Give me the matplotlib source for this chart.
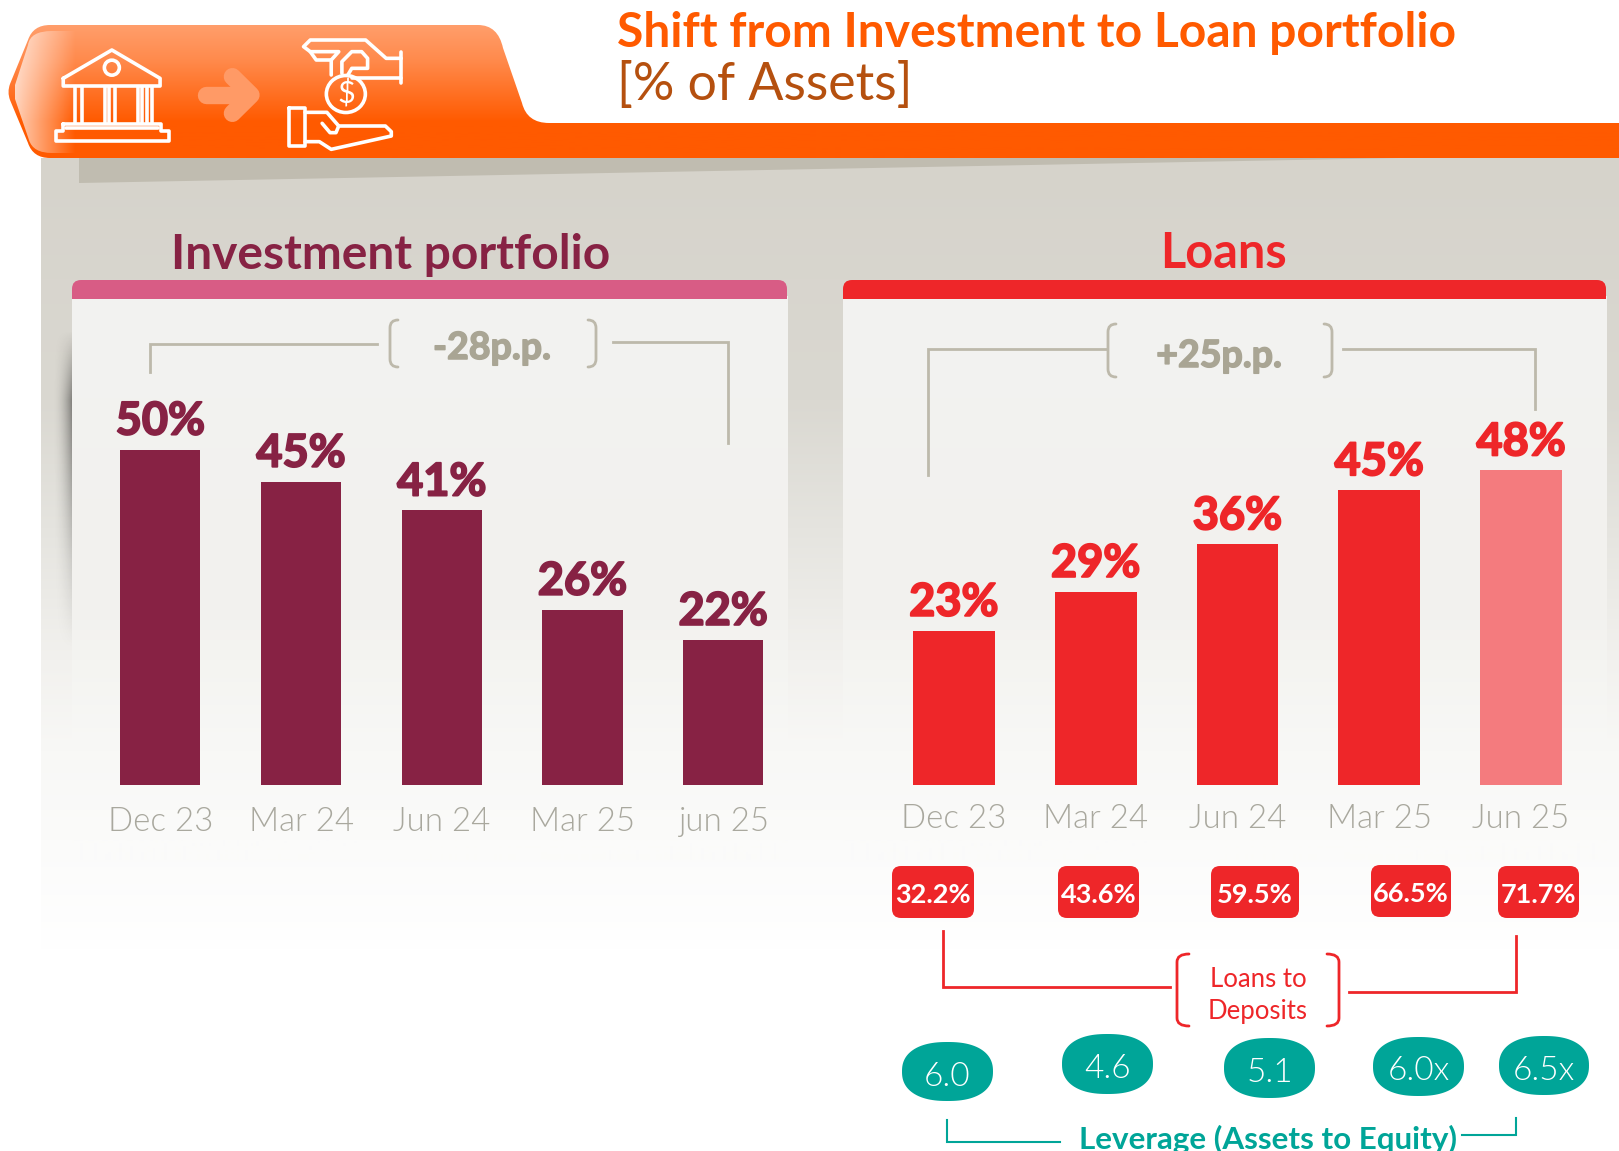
import numpy as np
import matplotlib
matplotlib.use('Agg')
import matplotlib.pyplot as plt
import matplotlib.patheffects as pe
from matplotlib.patches import FancyBboxPatch, Ellipse, PathPatch, Rectangle, Polygon
from matplotlib.path import Path

plt.rcParams['font.family'] = ['Lato', 'DejaVu Sans']

dates_left = ['Dec 23', 'Mar 24', 'Jun 24', 'Mar 25', 'jun 25']
dates_right = ['Dec 23', 'Mar 24', 'Jun 24', 'Mar 25', 'Jun 25']
investment_share = [50.0, 45.2, 40.9, 26.1, 21.6]
loans_share = [23.3, 29.2, 36.4, 44.6, 47.6]
loans_to_deposits = [32.2, 43.6, 59.5, 66.5, 71.7]
leverage = ['6.0', '4.6', '5.1', '6.0x', '6.5x']

W, H = 1619, 1151
BASE = 784.5
ORANGE = '#FF5A00'
WINE = '#872244'
RED = '#EE2629'
TEAL = '#00A598'
GREY_LINE = '#BDB9AB'
GREY_TEXT = '#A9A594'

fig = plt.figure(figsize=(W / 100, H / 100), dpi=100, facecolor='white')
bg = fig.add_axes([0, 0, 1, 1], zorder=0)


def to_rgb(c):
    return np.array(matplotlib.colors.to_rgb(c))


def vgrad(x0, x1, y0, y1, stops, clip=None, zorder=1):
    # stops: (y in px, colour)
    ys = np.arange(y0, y1 + 1)
    pos = [s[0] for s in stops]
    cols = np.array([to_rgb(s[1]) for s in stops])
    img = np.stack([np.interp(ys, pos, cols[:, i]) for i in range(3)], axis=1)[:, None, :]
    im = bg.imshow(img, extent=(x0, x1, y1, y0), aspect='auto', zorder=zorder)
    if clip is not None:
        im.set_clip_path(clip)
    return im


def heavy(w=1.1):
    # no really heavy cut to hand, so fatten the bold one a little
    return lambda c: [pe.withStroke(linewidth=w, foreground=c)]


# grey backdrop fading out to white
vgrad(41, W, 158, 950, [(158, '#D6D3CB'), (400, '#DAD8D1'), (528, '#E5E4DF'), (660, '#F2F1EE'),
                        (751, '#F8F8F6'), (840, '#FBFBFA'), (950, '#FFFFFF')])
bg.add_patch(Polygon([(79, 158), (1400, 158), (79, 183)], closed=True, fc='#C0BCB0', ec='none', zorder=2))

# soft dark edge left of the first panel
ys_sh = np.linspace(330, 650, 200)
alpha_y = np.interp(ys_sh, [330, 400, 450, 560, 650], [0, 1, 0.8, 0.3, 0])
alpha_x = np.linspace(0, 1, 40) ** 2
sh = np.zeros((200, 40, 4))
sh[:, :, 3] = np.outer(alpha_y, alpha_x) * 0.4
bg.imshow(sh, extent=(52, 72, 650, 330), aspect='auto', zorder=2)

# panels
for x0, x1, head in [(72, 787, '#D85C85'), (843, 1606, RED)]:
    vgrad(x0, x1, 296, 860, [(296, '#F3F3F1'), (600, '#F2F1EE'), (660, '#F4F4F1'), (751, '#F8F8F6'), (840, '#FBFBFA'), (860, '#FBFBFA')], zorder=3)
    bg.add_patch(FancyBboxPatch((x0, 280), x1 - x0, 19, boxstyle='round,pad=0,rounding_size=9', fc=head, ec='none', zorder=4))
    bg.add_patch(Rectangle((x0, 290), x1 - x0, 9, fc=head, ec='none', zorder=4))

# header tab
verts = [(50, 25), (478, 25), (498, 25), (503, 48), (522, 103), (527, 123), (549, 123), (W, 123), (W, 158),
         (50, 158), (33, 158), (28, 143), (10, 100), (7, 92), (10, 84), (28, 40), (33, 25), (50, 25)]
codes = [Path.MOVETO, Path.LINETO, Path.CURVE3, Path.CURVE3, Path.LINETO, Path.CURVE3, Path.CURVE3, Path.LINETO,
         Path.LINETO, Path.LINETO, Path.CURVE3, Path.CURVE3, Path.LINETO, Path.CURVE3, Path.CURVE3, Path.LINETO,
         Path.CURVE3, Path.CURVE3]
tab = PathPatch(Path(verts, codes), fc='none', ec='none', transform=bg.transData)
bg.add_patch(tab)
vgrad(0, W, 25, 158, [(25, '#FF9E6B'), (60, '#FF8A4C'), (122, ORANGE), (158, ORANGE)], clip=tab, zorder=5)

# gloss on the left end of the tab
gl_verts = [(52, 31), (30, 31), (28, 45), (15, 85), (13, 92), (15, 99), (29, 140), (33, 153), (52, 153), (75, 153), (75, 31), (52, 31)]
gl_codes = [Path.MOVETO, Path.CURVE3, Path.CURVE3, Path.LINETO, Path.CURVE3, Path.CURVE3, Path.LINETO, Path.CURVE3,
            Path.CURVE3, Path.LINETO, Path.LINETO, Path.CLOSEPOLY]
gl = PathPatch(Path(gl_verts, gl_codes), fc='none', ec='none', transform=bg.transData)
bg.add_patch(gl)
gloss = np.ones((1, 60, 4))
gloss[:, :, 3] = np.linspace(0.72, 0, 60)
im = bg.imshow(gloss, extent=(15, 75, 153, 31), aspect='auto', zorder=6)
im.set_clip_path(gl)


def z(pts):
    return [(p[0] / 2.53, p[1] / 3) for p in pts]


def icon_line(pts, closed=False, lw=2.6, color='white'):
    pts = z(pts)
    if closed:
        pts = pts + [pts[0]]
    xs, ys = zip(*pts)
    bg.plot(xs, ys, color=color, lw=lw, solid_joinstyle='round', solid_capstyle='round', zorder=7)


icon_line([(160, 235), (283, 150), (405, 235), (405, 258), (160, 258)], closed=True)
for cx in [190, 207, 265, 277, 290, 348, 360, 373, 385]:
    icon_line([(cx, 262), (cx, 368)])
icon_line([(160, 372), (408, 372), (408, 392), (427, 392), (427, 422), (142, 422), (142, 392), (160, 392)], closed=True)
icon_line([(168, 384), (400, 384)])
bg.add_patch(Ellipse((283 / 2.53, 203 / 3), 15, 15, fc='none', ec='white', lw=2.6, zorder=7))

icon_line([(522, 285), (630, 285)], lw=12.5, color='#FF9A66')
icon_line([(588, 230), (635, 285), (588, 340)], lw=12.5, color='#FF9A66')

icon_line([(1015, 175), (977, 175), (925, 120), (785, 120), (768, 140), (785, 155), (857, 155), (838, 180), (838, 225)])
icon_line([(785, 155), (800, 180), (838, 180)])
icon_line([(1015, 155), (1015, 250)])
icon_line([(865, 220), (865, 185), (890, 155), (915, 155), (930, 175), (930, 205), (890, 205), (880, 225)])
icon_line([(890, 235), (1015, 235)])
bg.add_patch(Ellipse((875 / 2.53, 282 / 3), 39, 37, fc='none', ec='white', lw=2.6, zorder=7))
bg.text(875 / 2.53, 282 / 3, '$', color='white', fontsize=22, ha='center', va='center', zorder=7)
icon_line([(732, 325), (772, 325), (772, 437), (732, 437)], closed=True)
icon_line([(772, 337), (827, 337), (857, 378), (975, 378), (990, 395), (990, 408), (838, 448), (808, 425), (772, 425)])
icon_line([(815, 370), (835, 398), (850, 398), (857, 378)])


def brace(x_tip, x_back, y0, y1, color, lw=2):
    r = 8
    verts = [(x_tip, y0), (x_back, y0), (x_back, y0 + r), (x_back, y1 - r), (x_back, y1), (x_tip, y1)]
    codes = [Path.MOVETO, Path.CURVE3, Path.CURVE3, Path.LINETO, Path.CURVE3, Path.CURVE3]
    bg.add_patch(PathPatch(Path(verts, codes), fc='none', ec=color, lw=lw, capstyle='round', zorder=8))


def connector(pts, color, lw=2):
    xs, ys = zip(*pts)
    bg.plot(xs, ys, color=color, lw=lw, solid_joinstyle='miter', zorder=8)


def squircle(x0, x1, y0, y1, color):
    t = np.linspace(0, 2 * np.pi, 120)
    n = 2.35
    cx, cy = (x0 + x1) / 2, (y0 + y1) / 2
    xs = cx + (x1 - x0) / 2 * np.sign(np.cos(t)) * np.abs(np.cos(t)) ** (2 / n)
    ys = cy + (y1 - y0) / 2 * np.sign(np.sin(t)) * np.abs(np.sin(t)) ** (2 / n)
    bg.fill(xs, ys, color=color, ec='none', zorder=8)


# titles
bg.text(617, 33, 'Shift from Investment to Loan portfolio', color=ORANGE, fontsize=34.6, fontweight='bold',
        ha='left', va='center', zorder=8)
bg.text(617, 85, '[% of Assets]', color='#B5500F', fontsize=37.4, ha='left', va='center', zorder=8)
bg.text(391, 255, 'Investment portfolio', color=WINE, fontsize=34.5, fontweight='bold', ha='center', va='center', zorder=8)
bg.text(1223, 253, 'Loans', color=RED, fontsize=35, fontweight='bold', ha='center', va='center', zorder=8)

# p.p. brackets
connector([(150, 372), (150, 344), (377, 344)], GREY_LINE)
connector([(613, 342), (728, 342), (728, 443)], GREY_LINE)
brace(398, 390, 320, 367, GREY_LINE)
brace(588, 596, 320, 367, GREY_LINE)
bg.text(492, 348, '-28p.p.', color=GREY_TEXT, fontsize=27, fontweight='bold', ha='center', va='center', zorder=8,
        path_effects=heavy()(GREY_TEXT))
connector([(928, 475), (928, 349), (1107, 349)], GREY_LINE)
connector([(1343, 349), (1535, 349), (1535, 409)], GREY_LINE)
brace(1116, 1108, 324, 377, GREY_LINE)
brace(1324, 1332, 324, 377, GREY_LINE)
bg.text(1219, 356, '+25p.p.', color=GREY_TEXT, fontsize=27, fontweight='bold', ha='center', va='center', zorder=8,
        path_effects=heavy()(GREY_TEXT))

# loans to deposits
ltd_boxes = [(892, 974, 866, 918), (1058, 1139, 866, 918), (1211, 1299, 866, 918), (1371, 1451, 865, 917), (1498, 1579, 866, 918)]
for val, (x0, x1, y0, y1) in zip(loans_to_deposits, ltd_boxes):
    bg.add_patch(FancyBboxPatch((x0, y0), x1 - x0, y1 - y0, boxstyle='round,pad=0,rounding_size=9', fc=RED, ec='none', zorder=8))
    bg.text((x0 + x1) / 2, (y0 + y1) / 2 + 3, '%.1f%%' % val, color='white', fontsize=19.5, fontweight='bold',
            ha='center', va='center', zorder=9)

connector([(943, 931), (943, 987), (1170, 987)], RED)
connector([(1349, 992), (1516, 992), (1516, 936)], RED)
brace(1189, 1177, 954, 1026, RED)
brace(1327, 1339, 954, 1026, RED)
bg.text(1258, 979, 'Loans to', color=RED, fontsize=18.5, ha='center', va='center', zorder=8)
bg.text(1258, 1011, 'Deposits', color=RED, fontsize=18.5, ha='center', va='center', zorder=8)

# leverage
lev_boxes = [(902, 993, 1042, 1101), (1062, 1153, 1034, 1094), (1224, 1315, 1038, 1098), (1373, 1464, 1037, 1096), (1499, 1589, 1036, 1095)]
for val, (x0, x1, y0, y1) in zip(leverage, lev_boxes):
    squircle(x0, x1, y0, y1, TEAL)
    bg.text((x0 + x1) / 2, (y0 + y1) / 2 + 5, val, color='white', fontsize=24, fontweight=300, ha='center', va='center', zorder=9)

connector([(947, 1120), (947, 1142), (1060, 1142)], TEAL, lw=1.5)
connector([(1462, 1135), (1516, 1135), (1516, 1118)], TEAL, lw=1.5)
bg.text(1079, 1149, 'Leverage (Assets to Equity)', color=TEAL, fontsize=22.6, fontweight='bold', ha='left', va='baseline', zorder=8)

bg.set_xlim(0, W)
bg.set_ylim(H, 0)
bg.axis('off')


def bar_axes(x0, x1, px_per_unit, values, labels, colors, width, color_label, tick_pad):
    top = BASE - 60 * px_per_unit
    ax = fig.add_axes([x0 / W, (H - BASE) / H, (x1 - x0) / W, (BASE - top) / H], zorder=1)
    ax.patch.set_alpha(0)
    pos = np.arange(len(values))
    bars = ax.bar(pos, values, width=width, color=colors)
    texts = ax.bar_label(bars, fmt='%.0f%%', padding=5, color=color_label, fontsize=32.5, fontweight='bold')
    for t in texts:
        t.set_path_effects(heavy(1.4)(color_label))
    ax.set_xlim(-0.5, len(values) - 0.5)
    ax.set_ylim(0, 60)
    ax.set_xticks(pos, labels)
    ax.tick_params(axis='x', length=0, pad=tick_pad, labelsize=23.8, labelcolor='#A9A89E')
    for lab in ax.get_xticklabels():
        lab.set_fontweight(300)
    ax.set_yticks([])
    for s in ax.spines.values():
        s.set_visible(False)
    return ax


bar_axes(90, 793.6, 6.7, investment_share, dates_left, [WINE] * 5, 0.57, WINE, 16)
bar_axes(883, 1592, 6.6, loans_share, dates_right, [RED] * 4 + ['#F47B7E'], 0.578, RED, 14)

fig.savefig('out.png', dpi=100)
